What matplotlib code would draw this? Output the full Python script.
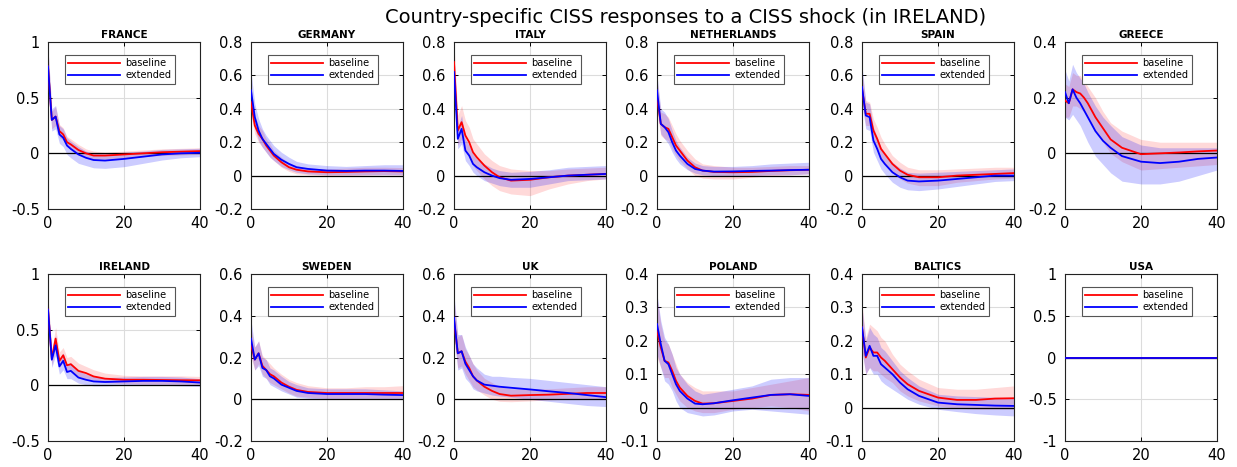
import matplotlib
matplotlib.use("Agg")
import matplotlib.pyplot as plt
from matplotlib.ticker import FormatStrFormatter

plt.rcParams["axes.unicode_minus"] = False
plt.rcParams["font.family"] = "DejaVu Sans"

horizon = [0, 1, 2, 3, 4, 5, 6, 8, 10, 12, 15, 20, 25, 30, 35, 40]

fr_base = [0.78, 0.30, 0.33, 0.20, 0.17, 0.10, 0.08, 0.03, 0.00, -0.02, -0.02, -0.01, 0.00, 0.01, 0.015, 0.02]
fr_ext = [0.78, 0.30, 0.33, 0.17, 0.14, 0.07, 0.04, -0.01, -0.04, -0.06, -0.065, -0.05, -0.03, -0.01, 0.00, 0.005]
fr_base_lo = [0.62, 0.22, 0.25, 0.14, 0.12, 0.06, 0.04, 0.00, -0.03, -0.05, -0.05, -0.04, -0.03, -0.02, -0.015, -0.01]
fr_base_hi = [0.95, 0.38, 0.42, 0.26, 0.23, 0.15, 0.13, 0.08, 0.04, 0.02, 0.01, 0.02, 0.03, 0.04, 0.045, 0.05]
fr_ext_lo = [0.62, 0.20, 0.22, 0.09, 0.06, -0.01, -0.04, -0.09, -0.11, -0.13, -0.135, -0.12, -0.09, -0.06, -0.04, -0.03]
fr_ext_hi = [0.95, 0.40, 0.43, 0.25, 0.22, 0.14, 0.11, 0.06, 0.02, 0.00, -0.005, 0.01, 0.02, 0.035, 0.04, 0.045]

de_base = [0.44, 0.30, 0.25, 0.22, 0.18, 0.15, 0.12, 0.08, 0.05, 0.035, 0.025, 0.02, 0.022, 0.025, 0.027, 0.025]
de_ext = [0.51, 0.35, 0.27, 0.22, 0.19, 0.16, 0.13, 0.095, 0.07, 0.05, 0.04, 0.03, 0.028, 0.03, 0.03, 0.028]
de_base_lo = [0.36, 0.25, 0.20, 0.17, 0.14, 0.11, 0.09, 0.05, 0.025, 0.01, 0.005, 0.00, 0.00, 0.003, 0.005, 0.003]
de_base_hi = [0.52, 0.36, 0.30, 0.27, 0.22, 0.19, 0.15, 0.11, 0.075, 0.06, 0.045, 0.04, 0.045, 0.05, 0.05, 0.048]
de_ext_lo = [0.40, 0.28, 0.21, 0.17, 0.14, 0.11, 0.09, 0.055, 0.035, 0.02, 0.01, 0.005, 0.005, 0.005, 0.005, 0.005]
de_ext_hi = [0.62, 0.43, 0.34, 0.28, 0.24, 0.21, 0.18, 0.14, 0.11, 0.085, 0.07, 0.06, 0.055, 0.06, 0.065, 0.065]

it_base = [0.68, 0.27, 0.32, 0.24, 0.20, 0.14, 0.11, 0.06, 0.02, -0.01, -0.03, -0.025, -0.01, 0.00, 0.005, 0.01]
it_ext = [0.62, 0.22, 0.28, 0.15, 0.12, 0.07, 0.05, 0.02, 0.00, -0.015, -0.025, -0.02, -0.01, 0.00, 0.005, 0.01]
it_base_lo = [0.55, 0.18, 0.22, 0.15, 0.11, 0.06, 0.03, -0.02, -0.06, -0.09, -0.11, -0.12, -0.08, -0.05, -0.03, -0.02]
it_base_hi = [0.80, 0.36, 0.42, 0.33, 0.29, 0.22, 0.19, 0.13, 0.09, 0.06, 0.04, 0.03, 0.03, 0.04, 0.045, 0.05]
it_ext_lo = [0.52, 0.16, 0.19, 0.09, 0.06, 0.02, 0.00, -0.03, -0.045, -0.06, -0.07, -0.07, -0.05, -0.03, -0.025, -0.02]
it_ext_hi = [0.72, 0.29, 0.36, 0.22, 0.18, 0.13, 0.10, 0.07, 0.045, 0.03, 0.02, 0.025, 0.035, 0.05, 0.055, 0.06]

nl_base = [0.47, 0.31, 0.29, 0.28, 0.23, 0.18, 0.15, 0.09, 0.05, 0.03, 0.022, 0.02, 0.022, 0.028, 0.032, 0.035]
nl_ext = [0.51, 0.31, 0.29, 0.26, 0.20, 0.15, 0.12, 0.07, 0.04, 0.03, 0.024, 0.025, 0.028, 0.03, 0.033, 0.035]
nl_base_lo = [0.38, 0.24, 0.22, 0.21, 0.16, 0.12, 0.09, 0.04, 0.00, -0.015, -0.02, -0.02, -0.01, 0.00, 0.005, 0.01]
nl_base_hi = [0.58, 0.38, 0.37, 0.35, 0.30, 0.25, 0.21, 0.15, 0.10, 0.07, 0.06, 0.05, 0.05, 0.055, 0.06, 0.06]
nl_ext_lo = [0.42, 0.25, 0.22, 0.19, 0.14, 0.10, 0.07, 0.035, 0.015, 0.005, 0.00, 0.00, 0.00, 0.005, 0.005, 0.01]
nl_ext_hi = [0.60, 0.40, 0.38, 0.34, 0.27, 0.21, 0.17, 0.11, 0.075, 0.06, 0.055, 0.055, 0.06, 0.07, 0.075, 0.08]

es_base = [0.52, 0.37, 0.37, 0.27, 0.22, 0.16, 0.13, 0.07, 0.03, 0.005, -0.01, -0.01, 0.00, 0.005, 0.01, 0.015]
es_ext = [0.53, 0.36, 0.35, 0.21, 0.16, 0.10, 0.07, 0.02, -0.01, -0.03, -0.035, -0.03, -0.02, -0.01, 0.00, 0.00]
es_base_lo = [0.44, 0.30, 0.30, 0.20, 0.15, 0.10, 0.07, 0.02, -0.02, -0.045, -0.06, -0.06, -0.04, -0.03, -0.02, -0.015]
es_base_hi = [0.62, 0.45, 0.44, 0.34, 0.29, 0.23, 0.19, 0.12, 0.08, 0.05, 0.035, 0.035, 0.04, 0.045, 0.05, 0.05]
es_ext_lo = [0.42, 0.28, 0.27, 0.14, 0.09, 0.04, 0.01, -0.04, -0.07, -0.085, -0.09, -0.08, -0.065, -0.05, -0.035, -0.03]
es_ext_hi = [0.66, 0.44, 0.43, 0.29, 0.23, 0.17, 0.13, 0.08, 0.045, 0.02, 0.015, 0.02, 0.025, 0.03, 0.035, 0.04]

gr_base = [0.19, 0.18, 0.23, 0.22, 0.215, 0.20, 0.18, 0.13, 0.09, 0.05, 0.02, -0.003, 0.00, 0.003, 0.007, 0.01]
gr_ext = [0.22, 0.18, 0.23, 0.20, 0.18, 0.155, 0.13, 0.08, 0.045, 0.02, -0.01, -0.03, -0.035, -0.03, -0.02, -0.015]
gr_base_lo = [0.13, 0.13, 0.17, 0.17, 0.16, 0.15, 0.13, 0.08, 0.04, 0.00, -0.03, -0.06, -0.055, -0.05, -0.045, -0.04]
gr_base_hi = [0.25, 0.24, 0.29, 0.28, 0.28, 0.26, 0.24, 0.20, 0.15, 0.11, 0.08, 0.05, 0.04, 0.04, 0.04, 0.04]
gr_ext_lo = [0.13, 0.12, 0.14, 0.12, 0.10, 0.07, 0.04, -0.01, -0.04, -0.07, -0.10, -0.11, -0.11, -0.10, -0.08, -0.06]
gr_ext_hi = [0.30, 0.26, 0.32, 0.29, 0.27, 0.25, 0.22, 0.17, 0.13, 0.10, 0.06, 0.03, 0.02, 0.02, 0.02, 0.02]

ie_base = [0.68, 0.24, 0.42, 0.22, 0.27, 0.18, 0.19, 0.13, 0.11, 0.08, 0.06, 0.05, 0.05, 0.048, 0.046, 0.045]
ie_ext = [0.68, 0.23, 0.36, 0.17, 0.22, 0.12, 0.13, 0.07, 0.05, 0.035, 0.03, 0.035, 0.04, 0.04, 0.035, 0.025]
ie_base_lo = [0.58, 0.18, 0.33, 0.16, 0.21, 0.12, 0.13, 0.08, 0.06, 0.04, 0.025, 0.015, 0.01, 0.01, 0.01, 0.01]
ie_base_hi = [0.80, 0.32, 0.52, 0.30, 0.34, 0.25, 0.26, 0.20, 0.17, 0.14, 0.11, 0.09, 0.085, 0.085, 0.085, 0.08]
ie_ext_lo = [0.58, 0.16, 0.27, 0.10, 0.14, 0.06, 0.06, 0.02, 0.005, -0.005, -0.005, 0.00, 0.00, 0.00, -0.005, -0.01]
ie_ext_hi = [0.78, 0.30, 0.45, 0.24, 0.29, 0.19, 0.20, 0.13, 0.10, 0.08, 0.07, 0.075, 0.08, 0.08, 0.075, 0.06]

se_base = [0.26, 0.19, 0.22, 0.16, 0.14, 0.12, 0.11, 0.08, 0.06, 0.045, 0.035, 0.03, 0.03, 0.03, 0.03, 0.03]
se_ext = [0.29, 0.19, 0.22, 0.15, 0.14, 0.11, 0.10, 0.07, 0.055, 0.04, 0.03, 0.025, 0.025, 0.025, 0.022, 0.02]
se_base_lo = [0.20, 0.14, 0.17, 0.12, 0.10, 0.08, 0.07, 0.05, 0.03, 0.015, 0.01, 0.005, 0.005, 0.005, 0.005, 0.005]
se_base_hi = [0.34, 0.25, 0.28, 0.21, 0.19, 0.17, 0.15, 0.12, 0.095, 0.08, 0.065, 0.055, 0.055, 0.06, 0.06, 0.065]
se_ext_lo = [0.22, 0.14, 0.16, 0.11, 0.10, 0.07, 0.06, 0.04, 0.025, 0.01, 0.005, 0.00, 0.00, 0.00, 0.00, 0.00]
se_ext_hi = [0.38, 0.25, 0.28, 0.20, 0.19, 0.15, 0.14, 0.11, 0.085, 0.07, 0.055, 0.05, 0.05, 0.05, 0.045, 0.04]

uk_base = [0.38, 0.22, 0.23, 0.18, 0.15, 0.11, 0.09, 0.06, 0.04, 0.025, 0.017, 0.02, 0.022, 0.026, 0.03, 0.03]
uk_ext = [0.39, 0.22, 0.23, 0.17, 0.14, 0.11, 0.09, 0.07, 0.065, 0.06, 0.055, 0.047, 0.038, 0.03, 0.02, 0.01]
uk_base_lo = [0.30, 0.15, 0.16, 0.12, 0.09, 0.06, 0.045, 0.02, 0.00, -0.01, -0.012, -0.008, -0.003, 0.00, 0.002, 0.002]
uk_base_hi = [0.48, 0.30, 0.31, 0.24, 0.21, 0.17, 0.14, 0.10, 0.08, 0.06, 0.05, 0.05, 0.05, 0.055, 0.06, 0.06]
uk_ext_lo = [0.30, 0.14, 0.15, 0.10, 0.08, 0.05, 0.04, 0.03, 0.02, 0.015, 0.01, 0.00, -0.01, -0.02, -0.03, -0.035]
uk_ext_hi = [0.50, 0.31, 0.31, 0.25, 0.21, 0.17, 0.15, 0.12, 0.11, 0.11, 0.105, 0.10, 0.09, 0.08, 0.07, 0.06]

pl_base = [0.23, 0.18, 0.14, 0.135, 0.11, 0.08, 0.06, 0.035, 0.02, 0.012, 0.013, 0.02, 0.027, 0.038, 0.04, 0.038]
pl_ext = [0.25, 0.19, 0.14, 0.13, 0.10, 0.07, 0.05, 0.027, 0.012, 0.01, 0.013, 0.022, 0.03, 0.038, 0.04, 0.035]
pl_base_lo = [0.15, 0.12, 0.09, 0.09, 0.06, 0.04, 0.02, 0.00, -0.01, -0.015, -0.015, -0.005, 0.00, 0.005, 0.00, -0.01]
pl_base_hi = [0.33, 0.25, 0.20, 0.19, 0.16, 0.13, 0.10, 0.075, 0.06, 0.05, 0.05, 0.05, 0.06, 0.07, 0.08, 0.09]
pl_ext_lo = [0.16, 0.12, 0.08, 0.07, 0.05, 0.02, 0.00, -0.015, -0.02, -0.025, -0.022, -0.01, -0.005, -0.01, -0.015, -0.02]
pl_ext_hi = [0.34, 0.26, 0.21, 0.19, 0.16, 0.12, 0.10, 0.07, 0.05, 0.04, 0.045, 0.055, 0.065, 0.085, 0.09, 0.09]

bl_base = [0.24, 0.15, 0.18, 0.165, 0.165, 0.15, 0.14, 0.115, 0.09, 0.07, 0.05, 0.03, 0.023, 0.023, 0.027, 0.028]
bl_ext = [0.24, 0.155, 0.185, 0.155, 0.155, 0.13, 0.12, 0.10, 0.075, 0.055, 0.035, 0.015, 0.01, 0.008, 0.006, 0.005]
bl_base_lo = [0.17, 0.10, 0.12, 0.11, 0.11, 0.10, 0.09, 0.075, 0.05, 0.035, 0.02, 0.005, -0.002, -0.005, -0.005, -0.005]
bl_base_hi = [0.31, 0.21, 0.25, 0.24, 0.23, 0.21, 0.20, 0.16, 0.13, 0.11, 0.085, 0.06, 0.055, 0.055, 0.06, 0.065]
bl_ext_lo = [0.17, 0.10, 0.12, 0.10, 0.10, 0.08, 0.07, 0.055, 0.04, 0.025, 0.01, -0.005, -0.012, -0.018, -0.022, -0.025]
bl_ext_hi = [0.30, 0.20, 0.24, 0.22, 0.21, 0.18, 0.17, 0.14, 0.11, 0.09, 0.065, 0.04, 0.035, 0.033, 0.031, 0.03]

us_zero = [0.0] * len(horizon)

countries = ["FRANCE", "GERMANY", "ITALY", "NETHERLANDS", "SPAIN", "GREECE",
             "IRELAND", "SWEDEN", "UK", "POLAND", "BALTICS", "USA"]

panels = [
    (fr_base, fr_ext, fr_base_lo, fr_base_hi, fr_ext_lo, fr_ext_hi),
    (de_base, de_ext, de_base_lo, de_base_hi, de_ext_lo, de_ext_hi),
    (it_base, it_ext, it_base_lo, it_base_hi, it_ext_lo, it_ext_hi),
    (nl_base, nl_ext, nl_base_lo, nl_base_hi, nl_ext_lo, nl_ext_hi),
    (es_base, es_ext, es_base_lo, es_base_hi, es_ext_lo, es_ext_hi),
    (gr_base, gr_ext, gr_base_lo, gr_base_hi, gr_ext_lo, gr_ext_hi),
    (ie_base, ie_ext, ie_base_lo, ie_base_hi, ie_ext_lo, ie_ext_hi),
    (se_base, se_ext, se_base_lo, se_base_hi, se_ext_lo, se_ext_hi),
    (uk_base, uk_ext, uk_base_lo, uk_base_hi, uk_ext_lo, uk_ext_hi),
    (pl_base, pl_ext, pl_base_lo, pl_base_hi, pl_ext_lo, pl_ext_hi),
    (bl_base, bl_ext, bl_base_lo, bl_base_hi, bl_ext_lo, bl_ext_hi),
    (us_zero, us_zero, us_zero, us_zero, us_zero, us_zero),
]

y_limits = [(-0.5, 1), (-0.2, 0.8), (-0.2, 0.8), (-0.2, 0.8), (-0.2, 0.8), (-0.2, 0.4),
            (-0.5, 1), (-0.2, 0.6), (-0.2, 0.6), (-0.1, 0.4), (-0.1, 0.4), (-1, 1)]
y_ticks = [[-0.5, 0, 0.5, 1], [-0.2, 0, 0.2, 0.4, 0.6, 0.8], [-0.2, 0, 0.2, 0.4, 0.6, 0.8],
           [-0.2, 0, 0.2, 0.4, 0.6, 0.8], [-0.2, 0, 0.2, 0.4, 0.6, 0.8], [-0.2, 0, 0.2, 0.4],
           [-0.5, 0, 0.5, 1], [-0.2, 0, 0.2, 0.4, 0.6], [-0.2, 0, 0.2, 0.4, 0.6],
           [-0.1, 0, 0.1, 0.2, 0.3, 0.4], [-0.1, 0, 0.1, 0.2, 0.3, 0.4], [-1, -0.5, 0, 0.5, 1]]


def main():
    W, H = 1237, 467
    fig = plt.figure(figsize=(W / 100, H / 100), dpi=100)
    lefts = [48, 251, 454, 657, 862, 1065]
    tops = [42, 274]
    aw, ah = 152, 167

    for i, name in enumerate(countries):
        row, col = divmod(i, 6)
        rect = [lefts[col] / W, 1 - (tops[row] + ah) / H, aw / W, ah / H]
        ax = fig.add_axes(rect)
        base, ext, blo, bhi, elo, ehi = panels[i]

        ax.fill_between(horizon, blo, bhi, color="red", alpha=0.15, lw=0)
        ax.fill_between(horizon, elo, ehi, color="blue", alpha=0.2, lw=0)
        ax.axhline(0, color="black", lw=0.9, zorder=2)
        ax.plot(horizon, base, color="red", lw=1.3, label="baseline", zorder=3)
        ax.plot(horizon, ext, color="blue", lw=1.3, label="extended", zorder=4)

        ax.set_xlim(0, 40)
        ax.set_xticks([0, 20, 40])
        ax.set_ylim(*y_limits[i])
        ax.set_yticks(y_ticks[i])
        ax.yaxis.set_major_formatter(FormatStrFormatter("%g"))
        ax.grid(True, color="#dcdcdc", lw=0.8)
        ax.set_axisbelow(True)
        ax.tick_params(direction="in", top=True, right=True, length=3,
                       labelsize=10.5, width=0.7)
        ax.tick_params(axis="y", pad=6)
        ax.tick_params(axis="x", pad=5)
        for sp in ax.spines.values():
            sp.set_linewidth(0.8)
            sp.set_color("#222222")
        ax.set_title(name, fontsize=7.5, fontweight="bold", pad=3)

        leg = ax.legend(loc="upper left", bbox_to_anchor=(0.11, 0.925),
                        fontsize=7, handlelength=5.3, handletextpad=0.6,
                        labelspacing=0.25, borderpad=0.35, borderaxespad=0,
                        fancybox=False, framealpha=1)
        leg.get_frame().set_edgecolor("#555555")
        leg.get_frame().set_linewidth(0.8)

    fig.text(0.554, 0.963, "Country-specific CISS responses to a CISS shock (in IRELAND)",
             ha="center", va="center", fontsize=14)

    fig.savefig("out.png", dpi=100)


if __name__ == "__main__":
    main()
